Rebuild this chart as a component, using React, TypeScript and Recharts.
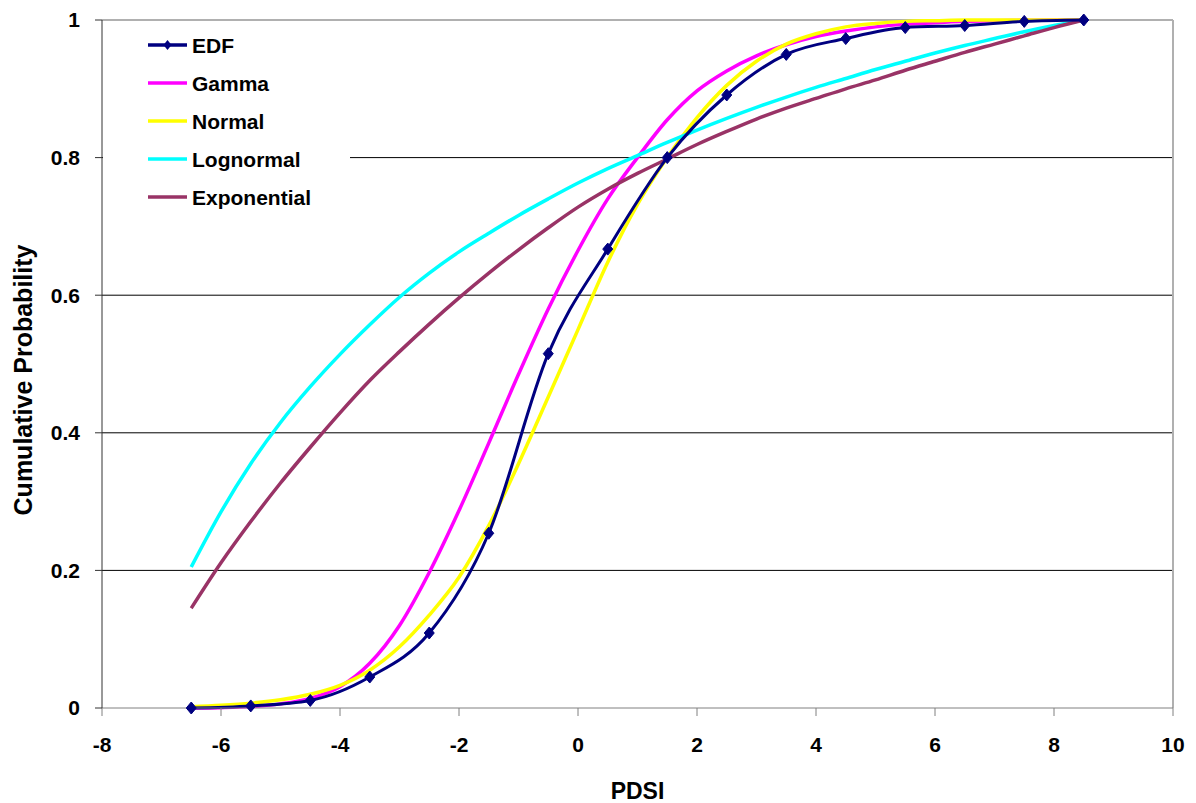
import React from 'react';
import { LineChart, Line, XAxis, YAxis, CartesianGrid, ReferenceLine } from 'recharts';

const pdsiEDF = [-6.5, -5.5, -4.5, -3.5, -2.5, -1.5, -0.5, 0.5, 1.5, 2.5, 3.5, 4.5, 5.5, 6.5, 7.5, 8.5];
const edfValues = [0, 0.003, 0.011, 0.045, 0.109, 0.254, 0.515, 0.667, 0.8, 0.891, 0.95, 0.973, 0.989, 0.992, 0.998, 1];

const pdsiFit = [-6.5, -6, -5.5, -5, -4.5, -4, -3.5, -3, -2.5, -2, -1.5, -1, -0.5, 0, 0.5, 1, 1.5, 2, 2.5, 3, 3.5, 4, 4.5, 5, 5.5, 6, 6.5, 7, 7.5, 8, 8.5];
const gammaValues = [0, 0.0005, 0.002, 0.006, 0.014, 0.031, 0.065, 0.12, 0.197, 0.287, 0.385, 0.485, 0.58, 0.665, 0.74, 0.8, 0.855, 0.897, 0.926, 0.948, 0.964, 0.976, 0.984, 0.99, 0.994, 0.996, 0.998, 0.999, 0.9995, 1, 1];
const normalValues = [0.002, 0.004, 0.007, 0.012, 0.02, 0.033, 0.055, 0.089, 0.135, 0.19, 0.265, 0.355, 0.452, 0.55, 0.648, 0.732, 0.8, 0.858, 0.905, 0.94, 0.965, 0.98, 0.99, 0.995, 0.998, 0.999, 1, 1, 1, 1, 1];
const lognormalValues = [0.205, 0.285, 0.355, 0.415, 0.467, 0.514, 0.557, 0.597, 0.632, 0.663, 0.69, 0.716, 0.74, 0.763, 0.784, 0.803, 0.822, 0.84, 0.857, 0.873, 0.888, 0.902, 0.915, 0.928, 0.94, 0.952, 0.963, 0.973, 0.983, 0.992, 1];
const exponentialValues = [0.145, 0.211, 0.271, 0.327, 0.379, 0.429, 0.476, 0.518, 0.558, 0.596, 0.632, 0.666, 0.698, 0.728, 0.754, 0.777, 0.798, 0.819, 0.838, 0.856, 0.872, 0.886, 0.9, 0.913, 0.927, 0.94, 0.953, 0.965, 0.977, 0.989, 1];

const xTicks = [-8, -6, -4, -2, 0, 2, 4, 6, 8, 10];
const yTicks = [0, 0.2, 0.4, 0.6, 0.8, 1];

const edfData = pdsiEDF.map((x, i) => ({ x, y: edfValues[i] }));
const gammaData = pdsiFit.map((x, i) => ({ x, y: gammaValues[i] }));
const normalData = pdsiFit.map((x, i) => ({ x, y: normalValues[i] }));
const lognormalData = pdsiFit.map((x, i) => ({ x, y: lognormalValues[i] }));
const exponentialData = pdsiFit.map((x, i) => ({ x, y: exponentialValues[i] }));

const COLORS = {
  EDF: '#000080',
  Gamma: '#FF00FF',
  Normal: '#FFFF00',
  Lognormal: '#00FFFF',
  Exponential: '#993366',
};

const legendItems = [
  { name: 'EDF', color: COLORS.EDF, marker: true },
  { name: 'Gamma', color: COLORS.Gamma, marker: false },
  { name: 'Normal', color: COLORS.Normal, marker: false },
  { name: 'Lognormal', color: COLORS.Lognormal, marker: false },
  { name: 'Exponential', color: COLORS.Exponential, marker: false },
];

const FONT = 'Arial, "Liberation Sans", sans-serif';

const Diamond = (props: any) => {
  const { cx, cy } = props;
  if (cx == null || cy == null) return null;
  return (
    <path
      d={`M${cx},${cy - 6} L${cx + 5},${cy} L${cx},${cy + 6} L${cx - 5},${cy} Z`}
      fill={COLORS.EDF}
      stroke={COLORS.EDF}
      strokeWidth={1}
    />
  );
};

const YTitle = (props: any) => {
  const vb = props.viewBox || { x: 0, y: 0, width: 0, height: 0 };
  const cx = vb.x + 23;
  const cy = vb.y + vb.height / 2 + 16;
  return (
    <text
      x={cx}
      y={cy}
      transform={`rotate(-90, ${cx}, ${cy})`}
      textAnchor="middle"
      dominantBaseline="central"
      fontFamily={FONT}
      fontWeight="bold"
      fontSize={25}
      fill="#000"
    >
      Cumulative Probability
    </text>
  );
};

const LegendBox = () => (
  <div style={{ position: 'absolute', left: 103, top: 21, width: 247, height: 200, background: '#fff' }}>
    <svg width={247} height={200} style={{ display: 'block' }}>
      {legendItems.map((it, i) => {
        const cy = 24 + i * 38;
        return (
          <g key={it.name}>
            <line x1={45} x2={84} y1={cy} y2={cy} stroke={it.color} strokeWidth={3.5} />
            {it.marker && (
              <path d={`M64.5,${cy - 5} L68.5,${cy} L64.5,${cy + 5} L60.5,${cy} Z`} fill={it.color} />
            )}
            <text x={89} y={cy} dy="0.36em" fontFamily={FONT} fontWeight="bold" fontSize={21} fill="#000">
              {it.name}
            </text>
          </g>
        );
      })}
    </svg>
  </div>
);

export default function App() {
  return (
    <div style={{ position: 'absolute', left: 0, top: 0, width: 1196, height: 803, background: '#fff' }}>
      <LineChart width={1196} height={803} margin={{ top: 20, right: 23, bottom: 0, left: 0 }}>
        <CartesianGrid
          vertical={false}
          horizontalValues={[0.2, 0.4, 0.6, 0.8]}
          stroke="#000"
          strokeWidth={1}
        />
        <XAxis
          type="number"
          dataKey="x"
          domain={[-8, 10]}
          ticks={xTicks}
          allowDataOverflow
          height={95}
          stroke="#808080"
          tickSize={8}
          tickMargin={21}
          tick={{ fill: '#000', fontSize: 21, fontWeight: 'bold', fontFamily: FONT }}
          label={{
            value: 'PDSI',
            position: 'insideBottom',
            offset: 4,
            style: { fill: '#000', fontSize: 23, fontWeight: 'bold', fontFamily: FONT },
          }}
        />
        <YAxis
          type="number"
          dataKey="y"
          domain={[0, 1]}
          ticks={yTicks}
          width={102}
          stroke="#333"
          tickSize={7}
          tickMargin={15}
          tick={{ fill: '#000', fontSize: 21, fontWeight: 'bold', fontFamily: FONT }}
          label={<YTitle />}
        />
        <ReferenceLine y={1} stroke="#b0b0b0" strokeWidth={2} />
        <ReferenceLine x={10} stroke="#b0b0b0" strokeWidth={2} />
        <Line data={gammaData} dataKey="y" name="Gamma" type="monotone" stroke={COLORS.Gamma} strokeWidth={3.5} dot={false} isAnimationActive={false} />
        <Line data={normalData} dataKey="y" name="Normal" type="monotone" stroke={COLORS.Normal} strokeWidth={3.5} dot={false} isAnimationActive={false} />
        <Line data={lognormalData} dataKey="y" name="Lognormal" type="monotone" stroke={COLORS.Lognormal} strokeWidth={3.5} dot={false} isAnimationActive={false} />
        <Line data={exponentialData} dataKey="y" name="Exponential" type="monotone" stroke={COLORS.Exponential} strokeWidth={3.5} dot={false} isAnimationActive={false} />
        <Line data={edfData} dataKey="y" name="EDF" type="monotone" stroke={COLORS.EDF} strokeWidth={3} dot={<Diamond />} activeDot={false} isAnimationActive={false} />
      </LineChart>
      <LegendBox />
    </div>
  );
}
